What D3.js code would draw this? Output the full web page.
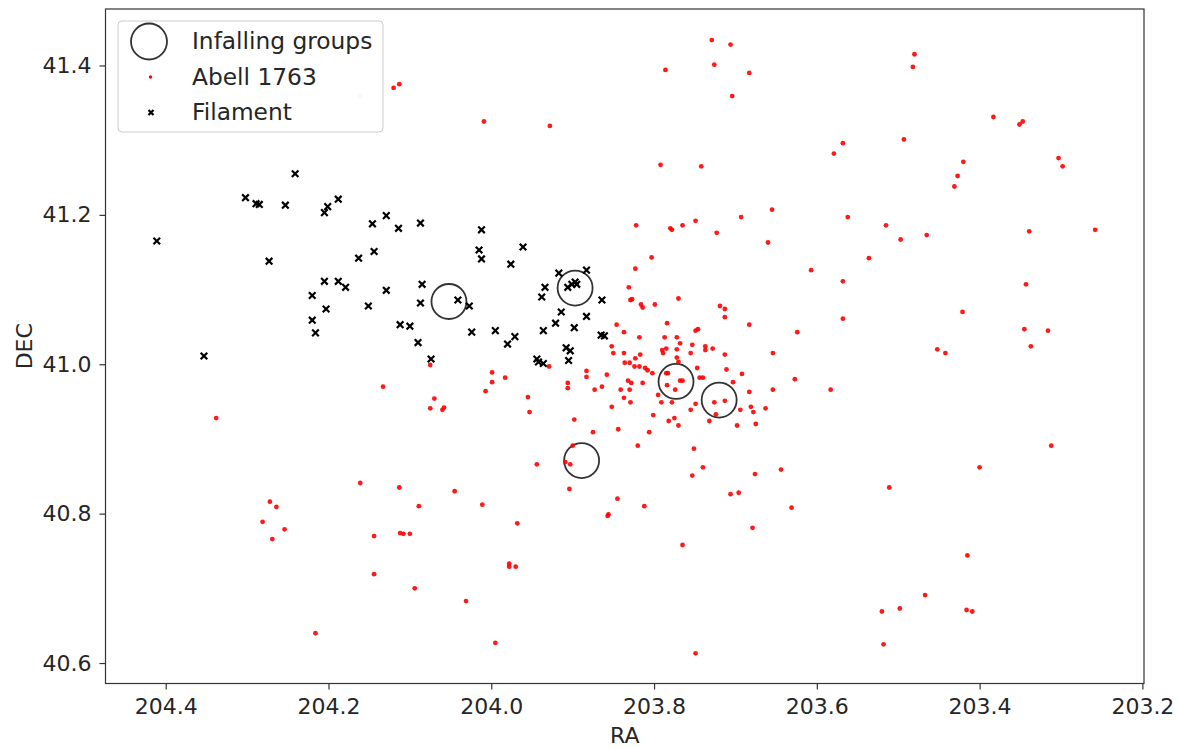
<!DOCTYPE html>
<html>
<head>
<meta charset="utf-8">
<script src="https://cdn.jsdelivr.net/npm/d3@7"></script>
<style>
    body { margin: 0; background: #fff; }
    text { font-family: "DejaVu Sans", sans-serif; fill: #262626; }
</style>
</head>
<body>
<div id="chart"></div>
<script>
// RA / DEC (degrees)
const groups = [
    [204.052, 41.084], [203.897, 41.102], [203.773, 40.977], [203.720, 40.952], [203.889, 40.871]
];

const filament = [
    [204.411, 41.165], [204.353, 41.011], [204.302, 41.223], [204.289, 41.215], [204.285, 41.214],
    [204.273, 41.138], [204.253, 41.213], [204.241, 41.255], [204.220, 41.092], [204.220, 41.059],
    [204.216, 41.042], [204.205, 41.203], [204.201, 41.211], [204.205, 41.111], [204.203, 41.074],
    [204.188, 41.221], [204.188, 41.111], [204.179, 41.103], [204.163, 41.142], [204.151, 41.078],
    [204.146, 41.188], [204.144, 41.151], [204.129, 41.199], [204.129, 41.099], [204.114, 41.182],
    [204.112, 41.053], [204.100, 41.051], [204.090, 41.029], [204.087, 41.189], [204.087, 41.082],
    [204.085, 41.107], [204.074, 41.007], [204.041, 41.086], [204.027, 41.078], [204.024, 41.043],
    [204.015, 41.153], [204.012, 41.180], [204.012, 41.141], [203.995, 41.045], [203.980, 41.027],
    [203.976, 41.134], [203.971, 41.037], [203.961, 41.157], [203.944, 41.007], [203.942, 41.003],
    [203.936, 41.001], [203.938, 41.090], [203.936, 41.045], [203.934, 41.103], [203.921, 41.055],
    [203.917, 41.122], [203.914, 41.070], [203.908, 41.022], [203.903, 41.018], [203.905, 41.005],
    [203.906, 41.103], [203.901, 41.107], [203.897, 41.110], [203.895, 41.107], [203.898, 41.049],
    [203.883, 41.126], [203.883, 41.064], [203.865, 41.039], [203.861, 41.038], [203.864, 41.086]
];

const abell = [
    // north
    [204.120, 41.370], [204.113, 41.375], [204.009, 41.325], [203.928, 41.319],
    [203.729, 41.434], [203.706, 41.428], [203.786, 41.394], [203.726, 41.401], [203.683, 41.390],
    [203.704, 41.359], [203.480, 41.415], [203.482, 41.398], [203.383, 41.331], [203.351, 41.321],
    [203.347, 41.325], [203.493, 41.301], [203.568, 41.296], [203.579, 41.282], [203.792, 41.267],
    [203.742, 41.265], [203.420, 41.271], [203.427, 41.252], [203.431, 41.238], [203.303, 41.276],
    [203.298, 41.265], [203.655, 41.207], [203.693, 41.197], [203.562, 41.197], [203.822, 41.186],
    [203.780, 41.182], [203.778, 41.180], [203.765, 41.186], [203.749, 41.192], [203.723, 41.176],
    [203.660, 41.163], [203.515, 41.186], [203.497, 41.167], [203.465, 41.173], [203.339, 41.178],
    [203.258, 41.180], [203.803, 41.143], [203.536, 41.142],
    // west
    [203.343, 41.107], [203.421, 41.070], [203.345, 41.047], [203.316, 41.045], [203.337, 41.024],
    [203.452, 41.020], [203.442, 41.015], [203.312, 40.891], [203.400, 40.862], [203.511, 40.835],
    [203.415, 40.744], [203.467, 40.691], [203.520, 40.669], [203.498, 40.673], [203.416, 40.671],
    [203.409, 40.669], [203.518, 40.625],
    // core
    [203.607, 41.126], [203.823, 41.128], [203.831, 41.103], [203.829, 41.086], [203.827, 41.087],
    [203.816, 41.080], [203.814, 41.076], [203.799, 41.080], [203.770, 41.088], [203.719, 41.078],
    [203.713, 41.074], [203.713, 41.063], [203.683, 41.053], [203.624, 41.043], [203.568, 41.111],
    [203.568, 41.061], [203.846, 41.053], [203.837, 41.043], [203.818, 41.036], [203.784, 41.055],
    [203.787, 41.036], [203.772, 41.036], [203.749, 41.045], [203.746, 41.047], [203.852, 41.024],
    [203.850, 41.015], [203.837, 41.015], [203.817, 41.013], [203.790, 41.019], [203.785, 41.021],
    [203.789, 41.015], [203.772, 41.020], [203.768, 41.028], [203.753, 41.026], [203.737, 41.024],
    [203.737, 41.019], [203.728, 41.021], [203.755, 41.015], [203.713, 41.013], [203.654, 41.015],
    [203.823, 41.008], [203.836, 41.002], [203.830, 41.002], [203.772, 41.009], [203.770, 41.003],
    [203.818, 40.997], [203.824, 40.997], [203.811, 40.995], [203.808, 40.992], [203.802, 40.988],
    [203.883, 40.991], [203.883, 40.983], [203.858, 40.986], [203.906, 40.975], [203.906, 40.968],
    [203.864, 40.970], [203.873, 40.966], [203.841, 40.966], [203.830, 40.966], [203.832, 40.978],
    [203.828, 40.975], [203.814, 40.975], [203.837, 40.955], [203.829, 40.949], [203.852, 40.943],
    [203.795, 40.959], [203.791, 40.949], [203.778, 40.949], [203.785, 40.988], [203.783, 40.988],
    [203.784, 40.972], [203.774, 40.966], [203.768, 40.978], [203.765, 40.978], [203.747, 40.995],
    [203.744, 40.982], [203.740, 40.982], [203.711, 40.993], [203.692, 40.987], [203.703, 40.976],
    [203.683, 40.963], [203.654, 40.966], [203.627, 40.980], [203.583, 40.966], [203.749, 40.947],
    [203.755, 40.939], [203.726, 40.949], [203.713, 40.951], [203.724, 40.933], [203.732, 40.924],
    [203.694, 40.939], [203.681, 40.943], [203.678, 40.936], [203.663, 40.941], [203.675, 40.920],
    [203.698, 40.918], [203.775, 40.928], [203.770, 40.918], [203.782, 40.924], [203.801, 40.932],
    [203.898, 40.926], [203.875, 40.909], [203.844, 40.913], [203.806, 40.909], [203.820, 40.891],
    [203.751, 40.887], [203.740, 40.862], [203.753, 40.851], [203.676, 40.853], [203.644, 40.859],
    [203.900, 40.891], [203.909, 40.869], [203.903, 40.866],
    // south
    [203.904, 40.833], [203.845, 40.820], [203.856, 40.799], [203.857, 40.797], [203.812, 40.810],
    [203.765, 40.758], [203.706, 40.826], [203.696, 40.828], [203.679, 40.781], [203.631, 40.808],
    [203.749, 40.613],
    // east
    [204.133, 40.970], [204.075, 40.999], [203.999, 40.989], [203.999, 40.976], [203.983, 40.982],
    [204.007, 40.964], [204.070, 40.954], [203.955, 40.956], [203.929, 40.997], [203.953, 40.936],
    [204.338, 40.928], [204.075, 40.941], [204.060, 40.939], [204.058, 40.942], [203.944, 40.866],
    [204.161, 40.841], [204.113, 40.835], [204.045, 40.830], [204.011, 40.812], [204.089, 40.810],
    [204.272, 40.816], [204.264, 40.809], [204.281, 40.789], [204.254, 40.779], [204.269, 40.766],
    [204.144, 40.770], [204.112, 40.774], [204.108, 40.773], [204.100, 40.773], [203.968, 40.787],
    [203.978, 40.733], [203.978, 40.729], [203.970, 40.729], [204.144, 40.719], [204.094, 40.700],
    [204.031, 40.683], [204.216, 40.640], [203.995, 40.627]
];

// one very faint member near the legend
const abellFaint = [[204.161, 41.359]];

const xTicks = [204.4, 204.2, 204.0, 203.8, 203.6, 203.4, 203.2];
const yTicks = [40.6, 40.8, 41.0, 41.2, 41.4];

const width = 1178;
const height = 748;
const margin = { top: 9, right: 34, bottom: 64.5, left: 105.5 };

const svg = d3.select('#chart')
    .append('svg')
    .attr('width', width)
    .attr('height', height);

// RA runs right to left
const x = d3.scaleLinear()
    .domain([204.474, 203.198])
    .range([margin.left, width - margin.right]);

const y = d3.scaleLinear()
    .domain([40.5726, 41.4756])
    .range([height - margin.bottom, margin.top]);

const fmt = d3.format('.1f');

// axes
const xAxis = svg.append('g')
    .attr('transform', `translate(0,${height - margin.bottom})`)
    .call(d3.axisBottom(x).tickValues(xTicks).tickFormat(fmt).tickSize(6).tickPadding(9));

const yAxis = svg.append('g')
    .attr('transform', `translate(${margin.left},0)`)
    .call(d3.axisLeft(y).tickValues(yTicks).tickFormat(fmt).tickSize(6).tickPadding(8));

[xAxis, yAxis].forEach(g => {
    g.select('.domain').remove();
    g.selectAll('line').attr('stroke', '#333').attr('stroke-width', 1.2);
    g.selectAll('text')
        .attr('fill', '#262626')
        .style('font-family', '"DejaVu Sans", sans-serif')
        .style('font-size', '22px');
});

// infalling groups (open circles)
svg.append('g')
    .selectAll('circle')
    .data(groups)
    .join('circle')
    .attr('cx', d => x(d[0]))
    .attr('cy', d => y(d[1]))
    .attr('r', 17.5)
    .attr('fill', 'none')
    .attr('stroke', '#333')
    .attr('stroke-width', 1.8);

// cluster members
svg.append('g')
    .selectAll('circle')
    .data(abell)
    .join('circle')
    .attr('cx', d => x(d[0]))
    .attr('cy', d => y(d[1]))
    .attr('r', 2.4)
    .attr('fill', '#ff0000')
    .attr('fill-opacity', 0.9);

svg.append('g')
    .selectAll('circle')
    .data(abellFaint)
    .join('circle')
    .attr('cx', d => x(d[0]))
    .attr('cy', d => y(d[1]))
    .attr('r', 2.4)
    .attr('fill', '#ff0000')
    .attr('opacity', 0.2);

// filament galaxies (x markers)
const cross = s => `M${-s},${-s}L${s},${s}M${-s},${s}L${s},${-s}`;

svg.append('g')
    .selectAll('path')
    .data(filament)
    .join('path')
    .attr('transform', d => `translate(${x(d[0])},${y(d[1])})`)
    .attr('d', cross(3.3))
    .attr('stroke', '#000')
    .attr('stroke-width', 2.2)
    .attr('fill', 'none');

// frame
svg.append('rect')
    .attr('x', margin.left)
    .attr('y', margin.top)
    .attr('width', width - margin.left - margin.right)
    .attr('height', height - margin.top - margin.bottom)
    .attr('fill', 'none')
    .attr('stroke', '#333')
    .attr('stroke-width', 1.2);

// axis labels
svg.append('text')
    .attr('x', (margin.left + width - margin.right) / 2)
    .attr('y', 743)
    .attr('text-anchor', 'middle')
    .style('font-size', '22px')
    .text('RA');

svg.append('text')
    .attr('transform', `translate(32,${(margin.top + height - margin.bottom) / 2}) rotate(-90)`)
    .attr('text-anchor', 'middle')
    .style('font-size', '22px')
    .text('DEC');

// legend
const legend = svg.append('g');

legend.append('rect')
    .attr('x', 118)
    .attr('y', 21)
    .attr('width', 265)
    .attr('height', 111)
    .attr('rx', 4)
    .attr('fill', '#fff')
    .attr('fill-opacity', 0.8)
    .attr('stroke', '#ccc');

const items = [
    { label: 'Infalling groups', type: 'ring' },
    { label: 'Abell 1763', type: 'dot' },
    { label: 'Filament', type: 'cross' },
];

items.forEach((item, i) => {
    const cy = 41.5 + i * 35.5;
    if (item.type === 'ring') {
        legend.append('circle')
            .attr('cx', 149).attr('cy', cy).attr('r', 18)
            .attr('fill', 'none').attr('stroke', '#333').attr('stroke-width', 1.8);
    } else if (item.type === 'dot') {
        legend.append('circle')
            .attr('cx', 150.5).attr('cy', cy).attr('r', 1.7)
            .attr('fill', '#ff0000');
    } else {
        legend.append('path')
            .attr('transform', `translate(151,${cy})`)
            .attr('d', cross(2.5))
            .attr('stroke', '#000').attr('stroke-width', 2.2);
    }
    legend.append('text')
        .attr('x', 192)
        .attr('y', cy + 7.5)
        .style('font-size', '23.3px')
        .text(item.label);
});
</script>
</body>
</html>
